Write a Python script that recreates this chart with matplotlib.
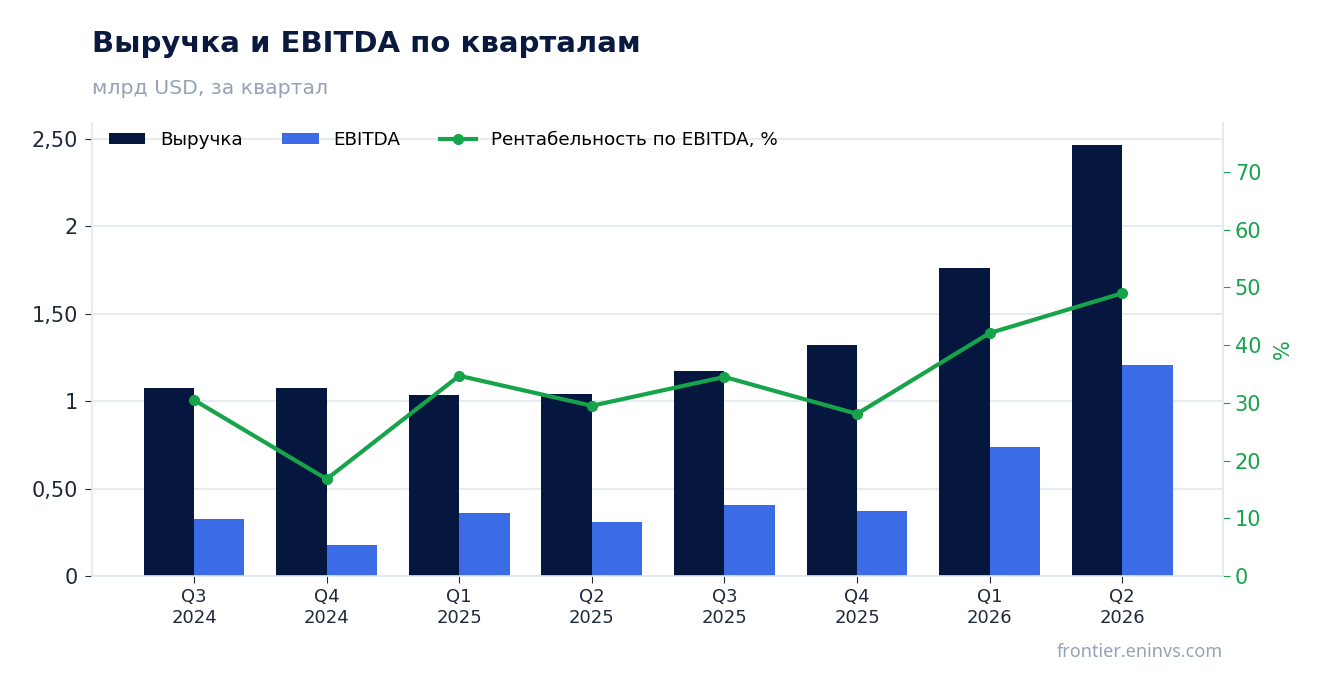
import numpy as np
import matplotlib.pyplot as plt
from matplotlib.ticker import FuncFormatter

quarters = ['Q3\n2024', 'Q4\n2024', 'Q1\n2025', 'Q2\n2025',
            'Q3\n2025', 'Q4\n2025', 'Q1\n2026', 'Q2\n2026']
revenue = [1.075, 1.075, 1.035, 1.04, 1.173, 1.32, 1.762, 2.466]
ebitda = [0.326, 0.177, 0.36, 0.309, 0.406, 0.372, 0.738, 1.207]
margin = [30.5, 16.8, 34.7, 29.5, 34.5, 28.1, 42.1, 49.0]

navy = '#05163f'
blue = '#3b6ce6'
green = '#16a34a'
light = '#e2e8f0'
grey = '#94a3b8'

plt.rcParams['font.family'] = ['DejaVu Sans']

fig = plt.figure(figsize=(13.23, 6.93), dpi=100)
ax = fig.add_axes([0.0695, 0.1688, 0.8549, 0.6537])
x = np.arange(len(quarters))
w = 0.38
b1 = ax.bar(x - w / 2, revenue, w, color=navy, label='Выручка', zorder=2)
b2 = ax.bar(x + w / 2, ebitda, w, color=blue, label='EBITDA', zorder=2)

ax.set_xlim(-0.77, len(quarters) - 1 + 0.76)
ax.set_ylim(0, 2.59)
ax.set_yticks([0, 0.5, 1, 1.5, 2, 2.5])
def fmt(v, pos):
    if abs(v - round(v)) < 1e-9:
        return str(int(round(v)))
    return ('%.2f' % v).replace('.', ',')
ax.yaxis.set_major_formatter(FuncFormatter(fmt))
ax.set_xticks(x)
ax.set_xticklabels(quarters, fontsize=13, color='#1e293b')
ax.tick_params(axis='y', labelsize=15, colors='#1e293b', length=5, pad=5)
ax.tick_params(axis='x', length=5, colors='#1e293b')
ax.grid(axis='y', color=light, linewidth=1.2, zorder=0)
for s in ['top', 'right']:
    ax.spines[s].set_visible(False)
for s in ['left', 'bottom']:
    ax.spines[s].set_color(light)
    ax.spines[s].set_linewidth(1.2)

ax2 = ax.twinx()
ln, = ax2.plot(x, margin, color=green, linewidth=3, marker='o', markersize=7,
               label='Рентабельность по EBITDA, %', zorder=3)
ax2.set_ylim(0, 78.5)
ax2.set_yticks(range(0, 80, 10))
ax2.tick_params(axis='y', labelsize=15, colors=green, length=5)
ax2.set_ylabel('%', color=green, fontsize=15, labelpad=8)
for s in ['top', 'left', 'bottom']:
    ax2.spines[s].set_visible(False)
ax2.spines['right'].set_color(light)
ax2.spines['right'].set_linewidth(1.2)

ax.legend([b1, b2, ln], ['Выручка', 'EBITDA', 'Рентабельность по EBITDA, %'],
          loc='upper left', bbox_to_anchor=(0.005, 1.007), ncol=3, frameon=False,
          prop={'family': 'DejaVu Sans', 'size': 13.2}, handlelength=2.0,
          handleheight=0.6, columnspacing=2.15, borderaxespad=0.2)

fig.text(0.0695, 0.937, 'Выручка и EBITDA по кварталам', fontsize=21,
         fontweight='bold', color='#0a1a3f', va='center')
fig.text(0.0695, 0.873, 'млрд USD, за квартал', fontsize=14.7, color=grey, va='center')
fig.text(0.9244, 0.059, 'frontier.eninvs.com', fontsize=13, color=grey,
         ha='right', va='center', family='Noto Sans')

fig.savefig('out.png', dpi=100)
